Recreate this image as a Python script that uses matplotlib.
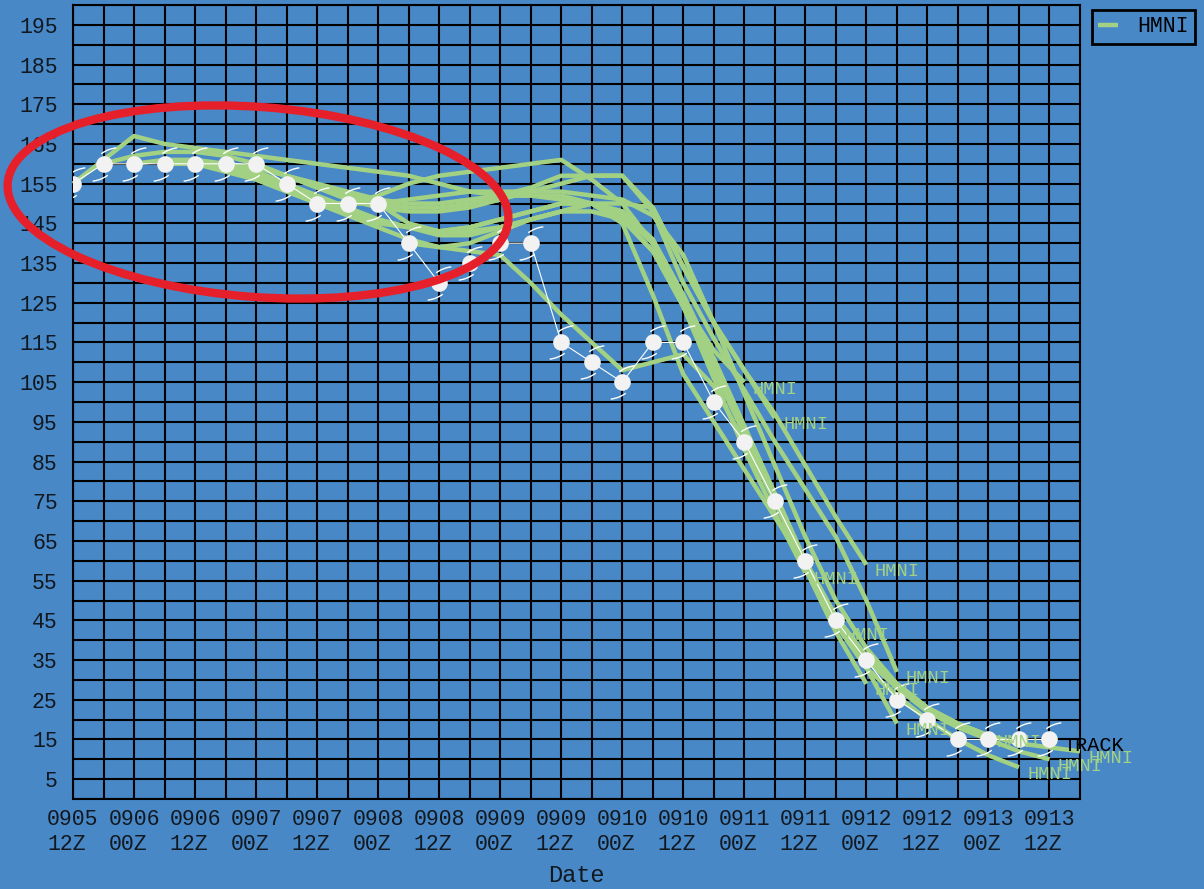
import matplotlib
matplotlib.use("Agg")
import matplotlib.pyplot as plt
from matplotlib.patches import Ellipse
from matplotlib.path import Path
from matplotlib.transforms import IdentityTransform

# hours after 0905 12Z
track_hours = [0, 6, 12, 18, 24, 30, 36, 42, 48, 54, 60, 66, 72, 78, 84, 90,
               96, 102, 108, 114, 120, 126, 132, 138, 144, 150, 156, 162,
               168, 174, 180, 186, 192]
track_vmax = [155, 160, 160, 160, 160, 160, 160, 155, 150, 150, 150, 140,
              130, 135, 140, 140, 115, 110, 105, 115, 115, 100, 90, 75, 60,
              45, 35, 25, 20, 15, 15, 15, 15]

# HMNI runs: init hour and intensity every 6 h
hmni_init = [0, 6, 12, 18, 24, 24, 30, 30, 48, 54, 60, 66]
hmni_runs = [
    [155, 161, 167, 165, 164, 163, 162, 161, 160, 159, 158, 157, 155, 153,
     152, 152, 152, 150, 146, 138, 125, 113, 105],
    [160, 162, 163, 163, 162, 160, 157, 154, 152, 150, 149, 149, 150, 152,
     154, 157, 157, 157, 149, 134, 120, 108, 96],
    [160, 161, 161, 160, 158, 155, 151, 147, 145, 144, 143, 143, 144, 146,
     148, 150, 148, 140, 124, 106, 88, 72, 57],
    [160, 160, 159, 157, 154, 151, 148, 146, 144, 143, 144, 146, 148, 150,
     150, 147, 140, 126, 110, 93, 76, 59, 43],
    [160, 160, 159, 157, 155, 153, 151, 150, 150, 151, 152, 152, 151, 150,
     150, 149, 134, 120, 108, 97, 84, 71, 59],
    [160, 158, 156, 153, 150, 147, 144, 141, 139, 140, 143, 146, 148, 148,
     146, 138, 124, 108, 92, 75, 58, 42, 29],
    [160, 159, 157, 154, 151, 149, 148, 148, 149, 151, 153, 155, 157, 157,
     148, 130, 116, 103, 90, 78, 66, 50, 32],
    [160, 158, 155, 152, 149, 146, 144, 142, 142, 144, 146, 148, 150, 145,
     127, 107, 95, 83, 71, 59, 46, 33, 19],
    [150, 150, 150, 151, 152, 153, 153, 153, 153, 152, 151, 147, 137, 120,
     102, 84, 66, 50, 38, 29, 23, 19, 16],
    [150, 152, 155, 157, 158, 159, 160, 161, 156, 150, 140, 126, 110, 93,
     76, 59, 44, 33, 26, 20, 15, 11, 8],
    [150, 145, 143, 144, 146, 148, 150, 150, 148, 141, 127, 111, 94, 77,
     60, 45, 35, 28, 22, 18, 15, 12, 10],
    [140, 139, 138, 137, 130, 122, 115, 108, 110, 112, 104, 90, 75, 60,
     46, 36, 29, 23, 19, 16, 14, 13, 12],
]

tick_hours = [0, 12, 24, 36, 48, 60, 72, 84, 96, 108, 120, 132, 144, 156,
              168, 180, 192]
tick_labels = ["0905\n12Z", "0906\n00Z", "0906\n12Z", "0907\n00Z",
               "0907\n12Z", "0908\n00Z", "0908\n12Z", "0909\n00Z",
               "0909\n12Z", "0910\n00Z", "0910\n12Z", "0911\n00Z",
               "0911\n12Z", "0912\n00Z", "0912\n12Z", "0913\n00Z",
               "0913\n12Z"]

bg = "#4888c6"
green = "#a3d183"
ink = "#111820"
plt.rcParams["font.family"] = ["Liberation Mono", "DejaVu Sans Mono"]

fig = plt.figure(figsize=(12.04, 8.89), dpi=100, facecolor=bg)
ax = fig.add_axes([73 / 1204, 1 - 799 / 889, (1080 - 73) / 1204, (799 - 5) / 889])
ax.set_facecolor(bg)
ax.set_xlim(0, 198)
ax.set_ylim(0, 200)

ax.set_xticks(tick_hours)
ax.set_xticklabels(tick_labels, fontsize=15.5, color=ink,
                   multialignment="left", linespacing=1.25)
ax.set_xticks(range(6, 198, 12), minor=True)
ax.set_yticks(range(5, 200, 10))
ax.set_yticklabels([str(v) for v in range(5, 200, 10)], fontsize=15.5,
                   color=ink)
ax.set_yticks(range(0, 201, 10), minor=True)
ax.tick_params(which="both", length=0)
ax.tick_params(axis="x", pad=7)
ax.tick_params(axis="y", pad=11)
ax.grid(which="both", color="black", linewidth=1.5)
ax.set_axisbelow(True)
for s in ax.spines.values():
    s.set_color("black")
    s.set_linewidth(1.5)
ax.set_xlabel("Date", fontsize=17, color=ink, labelpad=7)

for i, (h0, run) in enumerate(zip(hmni_init, hmni_runs)):
    hrs = [h0 + 6 * k for k in range(len(run))]
    ax.plot(hrs, run, color=green, linewidth=3.2, solid_capstyle="butt",
            label="HMNI" if i == 0 else None, zorder=3, clip_on=False)
    ax.annotate("HMNI", (hrs[-1], run[-1]), xytext=(6, -5),
                textcoords="offset points", color=green, fontsize=13.5,
                ha="left", va="center", zorder=6, annotation_clip=False)

# best track with storm symbols
tails = Path([(-0.3, 1.0), (0.3, 1.45), (1.1, 1.55),
              (0.3, -1.0), (-0.3, -1.45), (-1.1, -1.55)],
             [Path.MOVETO, Path.CURVE3, Path.CURVE3,
              Path.MOVETO, Path.CURVE3, Path.CURVE3])
ax.plot(track_hours, track_vmax, color="white", linewidth=0.8, zorder=4)
ax.plot(track_hours, track_vmax, linestyle="none", marker="o",
        markersize=12, color="#f2f2f2", markeredgewidth=0, zorder=5)
ax.plot(track_hours, track_vmax, linestyle="none", marker=tails,
        markersize=24, markerfacecolor="none", markeredgecolor="white",
        markeredgewidth=1.0, zorder=5)
ax.annotate("TRACK", (track_hours[-1], track_vmax[-1]), xytext=(10, -4),
            textcoords="offset points", color="black", fontsize=14.5,
            ha="left", va="center", zorder=6, annotation_clip=False)

leg = ax.legend(loc="upper left", bbox_to_anchor=(1092 / 1204, 1 - 10 / 889),
                bbox_transform=fig.transFigure, borderaxespad=0,
                fontsize=15.5, handlelength=0.9, handletextpad=0.9,
                borderpad=0.3, fancybox=False, facecolor=bg,
                edgecolor="black", framealpha=1)
leg.get_frame().set_linewidth(2)

# highlight of the early plateau
cx, cy = 258, 889 - 202
ax.add_patch(Ellipse((cx, cy), 502, 190, angle=-4.3, fill=False,
                     edgecolor="#e6202a", linewidth=6,
                     transform=IdentityTransform(), clip_on=False, zorder=7))

fig.savefig("out.png", dpi=100, facecolor=bg)
